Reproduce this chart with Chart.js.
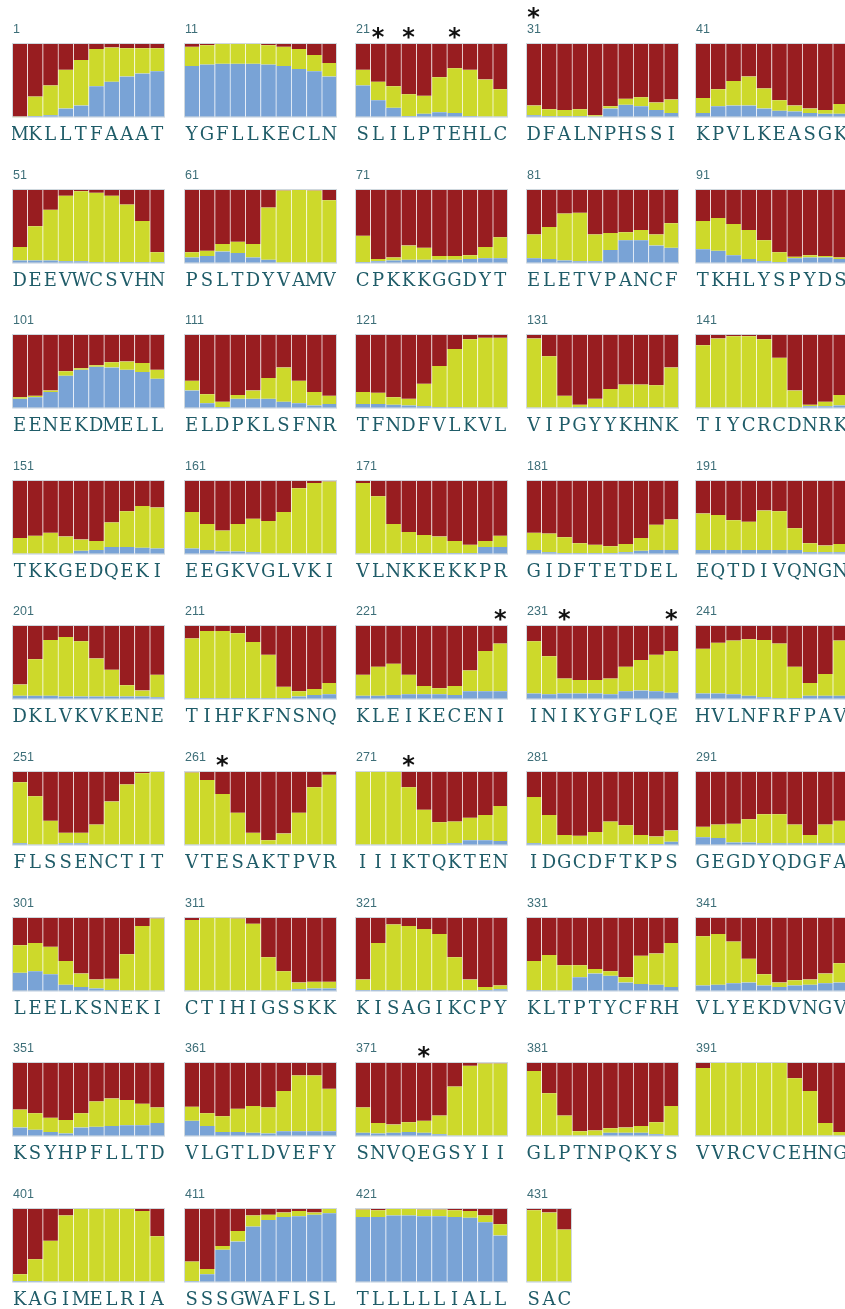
<!DOCTYPE html>
<html>
<head>
<meta charset="utf-8">
<script src="https://cdn.jsdelivr.net/npm/chart.js@4"></script>
<style>
  body { margin: 0; background: #fff; }
  #grid { position: relative; width: 845px; height: 1309px; overflow: hidden; }
  #grid canvas { position: absolute; }
</style>
</head>
<body>
<div id="grid"></div>
<script>
// Protein sequence, 10 residues per panel
const sequence =
  "MKLLTFAAATYGFLLKECLNSLILPTEHLCDFALNPHSSIKPVLKEASGK" +
  "DEEVWCSVHNPSLTDYVAMVCPKKKGGDYTELETVPANCFTKHLYSPYDS" +
  "EENEKDMELLELDPKLSFNRTFNDFVLKVLVIPGYYKHNKTIYCRCDNRK" +
  "TKKGEDQEKIEEGKVGLVKIVLNKKEKKPRGIDFTETDELEQTDIVQNGN" +
  "DKLVKVKENETIHFKFNSNQKLEIKECENIINIKYGFLQEHVLNFRFPAV" +
  "FLSSENCTITVTESAKTPVRIIIKTQKTENIDGCDFTKPSGEGDYQDGFA" +
  "LEELKSNEKICTIHIGSSKKKISAGIKCPYKLTPTYCFRHVLYEKDVNGV" +
  "KSYHPFLLTDVLGTLDVEFYSNVQEGSYIIGLPTNPQKYSVVRCVCEHNG" +
  "KAGIMELRIASSSGWAFLSLTLLLLLIALLSAC";

// Height of the blue part of each bar (% of the bar), one row per panel
const blueTop = [
  [0, 2, 3, 12, 16, 42, 48, 55, 59, 62],
  [69, 71, 72, 72, 72, 71, 69, 65, 62, 55],
  [43, 23, 13, 2, 5, 7, 6, 2, 1, 1],
  [3, 2, 2, 2, 1, 12, 17, 15, 10, 6],
  [6, 15, 16, 16, 12, 9, 8, 6, 5, 5],
  [4, 4, 4, 3, 3, 2, 2, 2, 2, 2],
  [8, 10, 16, 14, 8, 5, 1, 1, 1, 1],
  [2, 3, 4, 5, 5, 5, 5, 6, 7, 7],
  [7, 6, 4, 3, 3, 18, 31, 31, 24, 21],
  [19, 17, 11, 6, 3, 2, 7, 8, 8, 6],
  [13, 15, 22, 44, 52, 56, 55, 52, 49, 40],
  [24, 7, 2, 13, 13, 13, 9, 7, 4, 6],
  [6, 6, 5, 4, 3, 2, 2, 1, 1, 1],
  [1, 1, 1, 2, 2, 2, 2, 2, 2, 1],
  [1, 1, 1, 1, 1, 1, 1, 3, 3, 4],
  [1, 1, 1, 1, 5, 6, 10, 10, 9, 8],
  [8, 6, 4, 4, 3, 1, 1, 1, 1, 1],
  [1, 1, 1, 2, 2, 2, 2, 2, 10, 10],
  [6, 3, 2, 2, 2, 2, 3, 5, 6, 6],
  [6, 6, 6, 6, 6, 6, 6, 3, 3, 3],
  [5, 5, 5, 4, 4, 4, 4, 4, 4, 3],
  [2, 2, 2, 2, 2, 2, 2, 4, 6, 7],
  [5, 5, 6, 7, 7, 7, 6, 11, 11, 11],
  [8, 7, 8, 8, 8, 7, 11, 12, 11, 9],
  [8, 8, 7, 5, 3, 2, 2, 5, 5, 5],
  [3, 1, 1, 3, 3, 1, 1, 1, 1, 1],
  [1, 1, 1, 1, 1, 1, 1, 1, 1, 1],
  [1, 1, 1, 1, 1, 2, 3, 7, 7, 6],
  [3, 1, 1, 1, 1, 1, 1, 1, 2, 5],
  [11, 10, 4, 4, 3, 3, 3, 3, 3, 3],
  [25, 27, 23, 9, 6, 4, 2, 1, 1, 1],
  [1, 1, 1, 1, 1, 1, 1, 3, 4, 4],
  [2, 2, 2, 1, 1, 1, 1, 1, 2, 3],
  [2, 1, 1, 19, 24, 21, 12, 10, 9, 6],
  [8, 9, 11, 12, 8, 6, 8, 9, 11, 12],
  [12, 9, 6, 4, 12, 13, 14, 15, 15, 18],
  [21, 14, 6, 6, 5, 4, 7, 7, 7, 7],
  [5, 4, 5, 6, 5, 3, 1, 1, 1, 1],
  [1, 1, 1, 1, 1, 5, 5, 5, 3, 1],
  [1, 1, 1, 1, 1, 1, 1, 1, 1, 1],
  [2, 2, 1, 1, 1, 1, 1, 1, 1, 1],
  [2, 11, 44, 55, 75, 84, 88, 89, 91, 93],
  [88, 88, 90, 90, 89, 89, 88, 87, 81, 63],
  [1, 1, 1]
];

// Top of the yellow part (blue + yellow, %), one row per panel; red fills the rest
const yellowTop = [
  [1, 28, 43, 64, 77, 92, 94, 93, 93, 93],
  [95, 97, 99, 99, 99, 97, 95, 92, 84, 73],
  [64, 48, 42, 31, 29, 54, 66, 64, 51, 38],
  [16, 11, 10, 11, 3, 15, 25, 27, 20, 24],
  [26, 38, 49, 55, 39, 23, 16, 12, 10, 18],
  [22, 50, 72, 91, 97, 95, 91, 79, 57, 15],
  [15, 17, 26, 29, 26, 75, 98, 99, 98, 85],
  [37, 6, 8, 24, 21, 10, 10, 11, 22, 35],
  [39, 49, 67, 68, 39, 41, 42, 45, 39, 54],
  [57, 61, 53, 45, 31, 15, 9, 11, 10, 8],
  [15, 17, 24, 50, 54, 58, 62, 63, 61, 52],
  [37, 19, 9, 18, 24, 41, 55, 37, 22, 17],
  [22, 21, 15, 13, 33, 57, 80, 93, 95, 95],
  [94, 70, 17, 5, 13, 26, 32, 32, 31, 55],
  [85, 94, 97, 97, 93, 68, 24, 5, 9, 18],
  [22, 25, 29, 24, 20, 18, 43, 58, 65, 63],
  [57, 41, 32, 41, 48, 45, 57, 89, 96, 98],
  [96, 78, 41, 30, 26, 24, 18, 13, 18, 25],
  [29, 28, 23, 15, 13, 11, 14, 22, 40, 47],
  [55, 53, 46, 44, 59, 58, 35, 15, 12, 14],
  [20, 54, 80, 84, 78, 55, 40, 19, 12, 33],
  [82, 92, 92, 89, 77, 60, 17, 11, 14, 22],
  [33, 44, 48, 33, 18, 15, 18, 39, 65, 75],
  [78, 58, 28, 26, 26, 28, 44, 53, 60, 65],
  [68, 76, 79, 81, 80, 75, 44, 22, 34, 79],
  [85, 66, 33, 17, 17, 28, 59, 82, 97, 99],
  [98, 88, 69, 44, 17, 7, 16, 44, 78, 95],
  [99, 100, 99, 78, 48, 31, 32, 37, 41, 53],
  [65, 41, 14, 13, 18, 32, 27, 14, 12, 20],
  [25, 28, 29, 35, 42, 42, 28, 14, 28, 33],
  [62, 65, 60, 41, 24, 16, 17, 50, 88, 98],
  [96, 99, 99, 98, 91, 46, 27, 12, 13, 13],
  [16, 65, 90, 88, 84, 77, 46, 16, 6, 8],
  [41, 49, 35, 35, 30, 27, 19, 48, 51, 65],
  [74, 77, 67, 44, 23, 12, 15, 16, 24, 38],
  [36, 31, 25, 22, 31, 47, 51, 49, 44, 39],
  [40, 31, 27, 37, 41, 39, 61, 82, 82, 64],
  [39, 18, 16, 19, 21, 28, 67, 95, 98, 98],
  [88, 58, 28, 7, 8, 11, 12, 14, 19, 41],
  [92, 100, 100, 100, 100, 100, 78, 61, 18, 6],
  [11, 31, 56, 90, 99, 99, 99, 99, 96, 62],
  [28, 18, 49, 69, 90, 91, 94, 96, 94, 99],
  [98, 97, 99, 99, 98, 98, 97, 96, 90, 78],
  [97, 94, 71]
];

// Residues marked with an asterisk
const starred = [22, 24, 27, 31, 230, 233, 240, 263, 274, 375];

const COLORS = { blue: '#79a3d6', yellow: '#cdd92b', red: '#981d20' };
const BAR_W = 15.3;
const TOP_PAD = 40;
const CANVAS_H = 150;
const colLeft = [12, 184, 355, 526, 695];
const firstTop = 43, rowStep = 145.6;

// number label, asterisks and light frame round each panel
const panelDecor = {
    id: 'panelDecor',
    afterDatasetsDraw(chart, args, opts) {
        const { ctx, chartArea: a } = chart;
        ctx.save();
        ctx.strokeStyle = '#cfd8de';
        ctx.lineWidth = 1;
        ctx.strokeRect(a.left + 0.5, a.top + 0.5, a.right - a.left - 1, a.bottom - a.top - 1);

        ctx.fillStyle = '#3d6e78';
        ctx.font = '12.5px "Liberation Sans", Arial, sans-serif';
        ctx.textBaseline = 'middle';
        ctx.textAlign = 'left';
        ctx.fillText(String(opts.start), a.left + 1, a.top - 13);

        ctx.fillStyle = '#111';
        ctx.font = 'bold 24px "DejaVu Sans", sans-serif';
        ctx.textAlign = 'center';
        ctx.textBaseline = 'alphabetic';
        opts.stars.forEach(i => {
            const x = chart.scales.x.getPixelForValue(i);
            const y = i === 0 ? a.top - 31 : a.top - 11;
            ctx.fillText('*', x, y + 13);
        });
        ctx.restore();
    }
};

const grid = document.getElementById('grid');
const panelCount = blueTop.length;

for (let p = 0; p < panelCount; p++) {
    const start = p * 10 + 1;
    const letters = sequence.slice(p * 10, p * 10 + blueTop[p].length).split('');
    const blue = blueTop[p];
    const yellow = yellowTop[p].map((t, i) => t - blue[i]);
    const red = yellowTop[p].map(t => 100 - t);
    const stars = starred.filter(r => r >= start && r < start + letters.length).map(r => r - start);

    const canvas = document.createElement('canvas');
    canvas.width = Math.round(letters.length * BAR_W);
    canvas.height = CANVAS_H;
    canvas.style.left = colLeft[p % 5] + 'px';
    canvas.style.top = Math.round(firstTop + Math.floor(p / 5) * rowStep - TOP_PAD) + 'px';
    grid.appendChild(canvas);

    new Chart(canvas, {
        type: 'bar',
        data: {
            labels: letters,
            datasets: [
                { label: 'blue', data: blue, backgroundColor: COLORS.blue },
                { label: 'yellow', data: yellow, backgroundColor: COLORS.yellow },
                { label: 'red', data: red, backgroundColor: COLORS.red }
            ]
        },
        options: {
            responsive: false,
            animation: false,
            layout: { padding: { top: TOP_PAD, left: 0, right: 0, bottom: 0 } },
            datasets: {
                bar: {
                    barPercentage: 1,
                    categoryPercentage: 1,
                    borderWidth: { left: 1, right: 0, top: 0, bottom: 0 },
                    borderColor: 'rgba(255,255,255,0.3)',
                    borderSkipped: false
                }
            },
            plugins: {
                legend: { display: false },
                tooltip: { enabled: false },
                panelDecor: { start: start, stars: stars }
            },
            scales: {
                x: {
                    stacked: true,
                    grid: { display: false, drawTicks: false },
                    border: { display: false },
                    afterFit(scale) {
                        // bars should fill the whole canvas width
                        scale.paddingLeft = 0;
                        scale.paddingRight = 0;
                    },
                    ticks: {
                        color: '#1f5c68',
                        font: { family: "'DejaVu Serif', serif", size: 18 },
                        padding: 7,
                        autoSkip: false,
                        maxRotation: 0,
                        minRotation: 0
                    }
                },
                y: { stacked: true, min: 0, max: 100, display: false }
            }
        },
        plugins: [panelDecor]
    });
}
</script>
</body>
</html>
